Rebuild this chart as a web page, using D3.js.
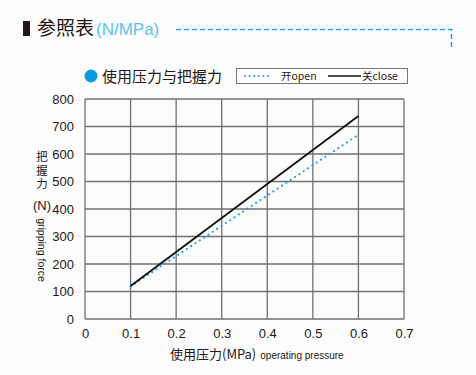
<!DOCTYPE html>
<html><head><meta charset="utf-8">
<script src="https://cdn.jsdelivr.net/npm/d3@7"></script>
<style>body{margin:0;background:#fdfcfd;}svg{display:block;font-family:"Noto Sans CJK SC","Liberation Sans",sans-serif;}</style>
</head><body>
<script>
const pressure = [0.1, 0.6];
const openForce = [118, 670];
const closeForce = [120, 738];
const xTicks = [0, 0.1, 0.2, 0.3, 0.4, 0.5, 0.6, 0.7];
const yTicks = [0, 100, 200, 300, 400, 500, 600, 700, 800];

const W = 476, H = 375;
const svg = d3.select("body").append("svg").attr("width", W).attr("height", H);
svg.append("rect").attr("width", W).attr("height", H).attr("fill", "#fdfcfd");

const x = d3.scaleLinear().domain([0, 0.7]).range([85, 404]);
const y = d3.scaleLinear().domain([0, 800]).range([319, 99]);

// Header
svg.append("rect").attr("x", 23).attr("y", 21).attr("width", 7).attr("height", 15).attr("fill", "#231815");
svg.append("text").attr("x", 37).attr("y", 35).attr("font-size", 19).attr("fill", "#231815").text("参照表");
svg.append("text").attr("x", 96).attr("y", 35).attr("font-size", 17).attr("fill", "#5bc3ee")
  .attr("font-family", "Liberation Sans, sans-serif").text("(N/MPa)");
svg.append("path").attr("d", "M176,29.5H451.5V48").attr("fill", "none").attr("stroke", "#29a8e0")
  .attr("stroke-width", 1.5).attr("stroke-dasharray", "5,3");

// Legend title
svg.append("circle").attr("cx", 91).attr("cy", 76).attr("r", 6.5).attr("fill", "#0a9be3");
svg.append("text").attr("x", 102).attr("y", 82).attr("font-size", 15).attr("fill", "#231815").text("使用压力与把握力");
svg.append("rect").attr("x", 236.5).attr("y", 68.5).attr("width", 171).attr("height", 15)
  .attr("fill", "#fff").attr("stroke", "#777").attr("stroke-width", 1);
svg.append("line").attr("x1", 245).attr("x2", 271).attr("y1", 76).attr("y2", 76)
  .attr("stroke", "#1a9fe3").attr("stroke-width", 2).attr("stroke-linecap", "round").attr("stroke-dasharray", "0,4.6");
svg.append("text").attr("x", 281).attr("y", 80).attr("font-size", 10.5).attr("fill", "#231815").text("开open");
svg.append("line").attr("x1", 328).attr("x2", 361).attr("y1", 76).attr("y2", 76)
  .attr("stroke", "#111").attr("stroke-width", 1.6);
svg.append("text").attr("x", 362).attr("y", 80).attr("font-size", 10.5).attr("fill", "#231815").text("关close");

// Grid
const g = svg.append("g");
g.selectAll(".gx").data(xTicks).join("line").attr("x1", d => x(d)).attr("x2", d => x(d))
  .attr("y1", y(0)).attr("y2", y(800)).attr("stroke", "#707070").attr("stroke-width", 1.3);
g.selectAll(".gy").data(yTicks).join("line").attr("y1", d => y(d)).attr("y2", d => y(d))
  .attr("x1", x(0)).attr("x2", x(0.7)).attr("stroke", "#707070").attr("stroke-width", 1.3);

// Axes (labels only)
const xAxis = d3.axisBottom(x).tickValues(xTicks).tickSize(0).tickPadding(10).tickFormat(d => d === 0 ? "0" : d3.format(".1f")(d));
const xa = svg.append("g").attr("transform", `translate(0,${y(0)})`).call(xAxis);
xa.select(".domain").remove();
xa.selectAll("text").attr("font-size", 13).attr("fill", "#231815").attr("font-family", "Liberation Sans, sans-serif");
const yAxis = d3.axisLeft(y).tickValues(yTicks).tickSize(0).tickPadding(11);
const ya = svg.append("g").attr("transform", `translate(${x(0)},0)`).call(yAxis);
ya.select(".domain").remove();
ya.selectAll("text").attr("font-size", 13).attr("fill", "#231815").attr("font-family", "Liberation Sans, sans-serif");

// Lines
const pts = (vals) => pressure.map((p, i) => [p, vals[i]]);
const line = d3.line().x(d => x(d[0])).y(d => y(d[1]));
svg.append("path").attr("d", line(pts(openForce))).attr("fill", "none").attr("stroke", "#1a9fe3")
  .attr("stroke-width", 2.2).attr("stroke-linecap", "round").attr("stroke-dasharray", "0,5.2");
svg.append("path").attr("d", line(pts(closeForce))).attr("fill", "none").attr("stroke", "#111")
  .attr("stroke-width", 1.8);

// Axis titles
const xt = svg.append("text").attr("x", 170).attr("y", 359).attr("fill", "#231815");
xt.append("tspan").attr("font-size", 13).text("使用压力(MPa)");
xt.append("tspan").attr("font-size", 10).attr("dx", 4).attr("font-family", "Liberation Sans, sans-serif").text("operating pressure");

svg.append("text").attr("x", 42).attr("y", 151).attr("font-size", 11.5)
  .style("writing-mode", "vertical-rl").style("letter-spacing", "2px")
  .attr("fill", "#231815").text("把握力");
svg.append("text").attr("x", 42).attr("y", 210).attr("text-anchor", "middle")
  .attr("font-size", 13).attr("fill", "#231815").attr("font-family", "Liberation Sans, sans-serif").text("(N)");
svg.append("text").attr("transform", "translate(38,250) rotate(90)").attr("text-anchor", "middle")
  .attr("font-size", 10.5).attr("fill", "#231815").attr("font-family", "Liberation Sans, sans-serif").text("gripping force");
</script>
</body></html>
